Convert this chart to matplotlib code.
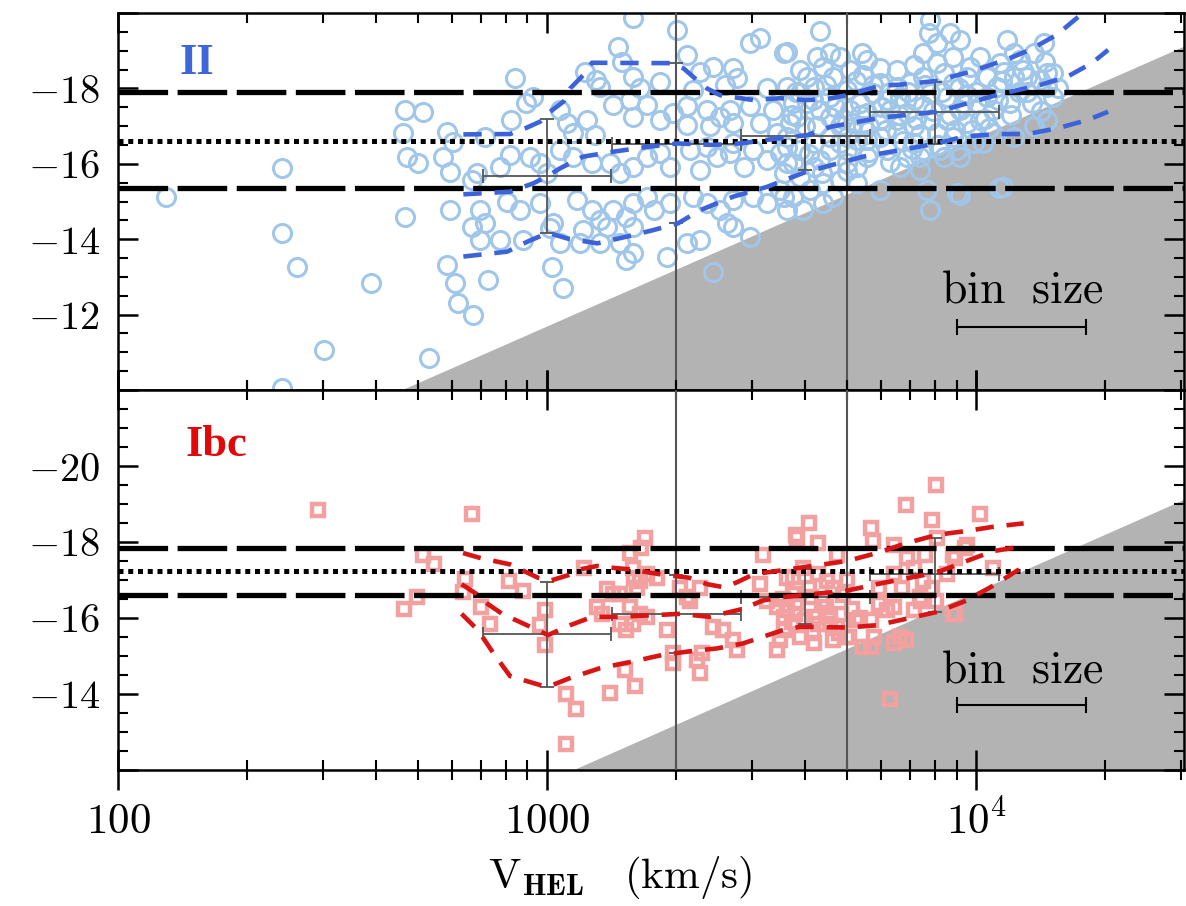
import numpy as np
import matplotlib.pyplot as plt
from matplotlib.ticker import MultipleLocator, FixedLocator, FuncFormatter, NullFormatter

plt.rcParams['mathtext.fontset'] = 'cm'
plt.rcParams['font.family'] = ['DejaVu Serif']

# ---------------------------------------------------------------
# data: (log10 V_HEL [km/s], absolute mag)
# ---------------------------------------------------------------
ii_points = np.array([
    (2.113, -15.13), (2.382, -15.88), (2.382, -14.16), (2.416, -13.27), (2.589, -12.83),
    (2.479, -11.06), (2.382, -10.04), (2.724, -10.84), (2.827, -11.99),
    (3.201, -19.86), (3.302, -19.55), (3.166, -19.11), (2.925, -18.27), (3.088, -18.44),
    (3.115, -18.22), (3.123, -18.05), (3.174, -18.71), (3.201, -18.31), (3.216, -18.00),
    (3.263, -18.18), (3.325, -18.89), (3.356, -18.44), (3.387, -18.58), (3.434, -18.53),
    (3.473, -19.20), (3.496, -19.33), (3.558, -18.97), (3.442, -18.27), (3.415, -18.09),
    (3.341, -17.96), (3.512, -18.00),
    (2.669, -17.43), (2.711, -17.38), (2.665, -16.81), (2.766, -16.85), (2.781, -16.59),
    (2.855, -16.72), (2.917, -17.16), (2.952, -17.60), (2.968, -17.78), (3.030, -17.43),
    (3.046, -17.07), (3.092, -17.16), (3.061, -16.81), (3.112, -16.76), (3.154, -17.56),
    (3.193, -17.69), (3.232, -17.56), (3.201, -17.25), (3.263, -17.16), (3.294, -17.34),
    (3.325, -17.52), (3.325, -17.03), (3.372, -17.43), (3.403, -17.25), (3.380, -16.99),
    (3.426, -17.43), (3.473, -17.52), (3.527, -17.43), (3.566, -17.07), (3.434, -17.07),
    (3.496, -17.07), (3.535, -16.81),
    (2.673, -16.19), (2.700, -16.01), (2.758, -16.19), (2.774, -15.79), (2.824, -15.57),
    (2.836, -15.75), (2.890, -15.92), (2.913, -16.23), (2.960, -16.19), (2.983, -16.01),
    (2.999, -15.75), (3.030, -16.37), (3.061, -16.19), (3.104, -16.01), (3.147, -16.01),
    (3.170, -15.75), (3.201, -15.92), (3.232, -16.19), (3.263, -16.28), (3.286, -15.92),
    (3.333, -16.37), (3.356, -15.84), (3.395, -16.19), (3.426, -16.28), (3.458, -15.92),
    (3.481, -16.37), (3.512, -16.10), (3.543, -16.28), (3.574, -16.01), (3.551, -15.75),
    (3.434, -16.54), (3.372, -16.45),
    (2.669, -14.60), (2.774, -14.77), (2.843, -14.77), (2.855, -14.42), (2.906, -15.00),
    (2.937, -14.77), (2.983, -14.95), (3.014, -14.42), (3.069, -15.04), (3.104, -14.77),
    (3.123, -14.51), (3.154, -14.77), (3.185, -14.60), (3.201, -14.95), (3.232, -15.13),
    (3.248, -14.77), (3.201, -14.33), (3.084, -14.24), (3.139, -14.33), (3.286, -14.95),
    (3.341, -15.13), (3.372, -14.95), (3.403, -14.77), (3.434, -15.04), (3.481, -15.13),
    (3.512, -14.95), (3.551, -15.13), (3.419, -14.42), (3.434, -14.33), (3.473, -14.07),
    (2.824, -14.33), (2.843, -13.98), (2.890, -13.98), (2.945, -13.98), (3.007, -14.29),
    (3.030, -13.89), (3.077, -13.89), (3.123, -13.89), (3.170, -13.89), (3.201, -13.63),
    (3.185, -13.45), (3.279, -13.54), (3.325, -13.89), (3.356, -13.98), (2.766, -13.32),
    (2.785, -12.83), (2.863, -12.92), (3.011, -13.27), (3.038, -12.70), (3.387, -13.14),
    (2.793, -12.30),
    (3.636, -19.51), (3.551, -18.93), (3.660, -18.93), (3.683, -18.84), (3.733, -18.93),
    (3.745, -18.75), (3.776, -18.53), (3.737, -18.36), (3.667, -18.31), (3.644, -18.58),
    (3.621, -18.05), (3.590, -17.87), (3.559, -18.05), (3.893, -19.81), (3.889, -19.46),
    (3.908, -19.20), (3.939, -19.46), (3.947, -18.84), (3.877, -18.93), (3.854, -18.62),
    (3.908, -18.67), (3.924, -18.40), (3.877, -18.31), (3.846, -18.13), (3.815, -18.05),
    (3.978, -18.31), (4.009, -18.84), (4.025, -18.31), (4.071, -19.28), (4.087, -18.93),
    (4.102, -18.75), (4.134, -18.93), (4.157, -19.20), (4.165, -18.40), (4.087, -18.31),
    (4.048, -18.05), (4.118, -18.31), (4.180, -18.40), (4.079, -17.60), (4.040, -17.43),
    (4.001, -17.60), (3.978, -17.83), (3.963, -17.43), (3.932, -17.16), (3.877, -17.52),
    (3.838, -17.34), (3.799, -17.43), (3.776, -17.16), (3.737, -16.99), (3.706, -17.43),
    (3.683, -16.99), (3.636, -17.43), (3.582, -17.25), (3.559, -16.72), (3.621, -16.54),
    (3.660, -16.37), (3.698, -16.37), (3.745, -16.63), (3.815, -16.81), (3.854, -16.54),
    (3.916, -16.37), (3.963, -16.19), (3.994, -16.54), (4.040, -16.81), (4.087, -16.72),
    (4.165, -17.16), (3.559, -16.01), (3.590, -15.66), (3.621, -15.92), (3.644, -15.48),
    (3.667, -15.13), (3.644, -14.95), (3.574, -15.13), (3.543, -15.31), (3.683, -15.57),
    (3.722, -15.92), (3.776, -15.31), (3.823, -15.92), (3.885, -15.31), (3.893, -14.77),
    (3.963, -15.17), (4.063, -15.39), (4.180, -17.78),
    (3.605, -18.31), (3.605, -17.60), (3.660, -17.78), (3.698, -17.96), (3.729, -17.60),
    (3.760, -17.87), (3.792, -17.69), (3.823, -17.78), (3.854, -17.69), (3.893, -17.87),
    (3.932, -17.78), (3.628, -16.99), (3.660, -17.25), (3.714, -17.07), (3.745, -17.34),
    (3.776, -16.72), (3.815, -17.16), (3.854, -16.99), (3.893, -17.16), (3.908, -16.81),
    (3.947, -16.72), (3.978, -17.07), (4.009, -17.16), (4.025, -17.78), (3.590, -16.37),
    (3.636, -16.10), (3.698, -16.01), (3.745, -16.19), (3.792, -16.37), (3.838, -16.19),
    (3.877, -16.37), (3.613, -15.31), (3.722, -15.48), (3.559, -14.77), (3.597, -14.77),
    (3.683, -16.54), (3.722, -16.63), (3.574, -17.60), (3.590, -18.49), (3.628, -18.84),
    (3.706, -18.49), (3.815, -18.49), (3.776, -18.13), (3.947, -18.13), (4.056, -18.67),
    (3.986, -18.58),
    (3.963, -19.28), (4.064, -18.44), (4.149, -18.22), (4.165, -18.05), (4.118, -17.91),
    (4.134, -16.99), (3.870, -16.19), (3.924, -16.19), (3.955, -16.37), (4.017, -16.54),
    (3.870, -15.84), (4.053, -15.35), (3.955, -15.22),
    (3.570, -17.30), (3.600, -17.00), (3.620, -17.70), (3.650, -18.10), (3.670, -17.50),
    (3.690, -17.20), (3.700, -16.70), (3.720, -18.20), (3.730, -17.30), (3.750, -17.00),
    (3.760, -18.10), (3.780, -17.50), (3.790, -16.90), (3.800, -17.90), (3.820, -17.30),
    (3.830, -16.60), (3.840, -17.90), (3.860, -17.20), (3.870, -16.80), (3.880, -18.10),
    (3.900, -17.40), (3.910, -16.50), (3.920, -17.90), (3.940, -17.30), (3.950, -16.90),
    (3.960, -18.00), (3.970, -17.60), (3.990, -16.90), (4.000, -17.90), (4.020, -17.20),
    (4.030, -16.95), (4.050, -17.70), (4.060, -18.20), (4.080, -17.30), (4.100, -17.90),
    (4.110, -18.50), (4.130, -17.60), (4.150, -17.40), (4.160, -18.70), (4.190, -18.00),
    (3.560, -16.45), (3.610, -16.25), (3.660, -16.70), (3.580, -17.90), (3.640, -15.75),
    (3.700, -15.80), (3.750, -16.30), (3.800, -16.05), (3.850, -16.40),
])

ibc_points = np.array([
    (2.465, -18.84), (2.825, -18.73), (2.711, -17.67), (2.737, -17.41), (2.809, -17.02),
    (2.804, -16.68), (2.697, -16.55), (2.666, -16.24), (2.847, -16.30), (2.867, -15.84),
    (2.911, -16.98), (2.943, -16.72), (2.996, -16.20), (2.983, -15.81), (2.996, -15.29),
    (3.045, -13.99), (3.068, -13.60), (3.045, -12.69), (3.085, -17.32), (3.117, -16.29),
    (3.139, -16.76), (3.154, -16.63), (3.127, -16.11), (3.170, -15.85), (3.185, -15.68),
    (3.201, -15.85), (3.216, -16.11), (3.232, -16.03), (3.193, -16.29), (3.216, -16.98),
    (3.232, -17.15), (3.201, -17.32), (3.228, -18.10), (3.220, -17.84), (3.193, -17.71),
    (3.170, -16.63), (3.147, -14.03), (3.205, -14.21), (3.182, -14.64), (3.279, -15.68),
    (3.294, -14.81), (3.294, -15.07), (3.333, -16.46), (3.356, -16.80), (3.360, -15.07),
    (3.356, -14.55), (3.349, -14.90), (3.387, -15.77), (3.411, -15.68), (3.434, -15.42),
    (3.442, -15.16), (3.504, -17.67), (3.496, -16.89), (3.512, -16.46), (3.535, -16.29),
    (3.551, -16.03), (3.582, -18.10), (3.574, -17.07), (3.578, -16.11), (3.543, -15.42),
    (3.535, -15.16),
    (3.610, -18.49), (3.579, -18.19), (3.632, -17.97), (3.676, -17.67), (3.596, -17.32),
    (3.632, -17.15), (3.667, -16.80), (3.614, -16.55), (3.650, -16.29), (3.685, -16.11),
    (3.632, -15.85), (3.676, -15.77), (3.721, -15.94), (3.667, -15.42), (3.703, -15.51),
    (3.756, -18.36), (3.760, -18.02), (3.809, -17.93), (3.836, -18.97), (3.907, -19.49),
    (3.898, -18.58), (4.009, -18.73), (3.978, -17.93), (3.951, -17.58), (3.880, -17.67),
    (3.854, -17.32), (3.809, -17.15), (3.774, -16.80), (3.827, -16.80), (3.871, -16.46),
    (3.809, -16.29), (3.774, -16.37), (3.756, -15.94), (3.756, -15.25), (3.809, -15.33),
    (3.836, -15.42), (3.800, -13.86), (3.951, -16.11), (4.040, -17.32), (3.933, -17.15),
    (3.898, -16.80), (3.907, -16.46),
    (3.559, -17.06), (3.574, -16.63), (3.559, -16.20), (3.652, -16.98), (3.621, -16.03),
    (3.660, -15.85), (3.698, -15.51), (3.737, -15.25), (3.761, -15.51), (3.823, -15.51),
    (3.792, -16.20), (3.854, -16.20), (3.869, -16.55), (3.877, -16.98), (3.838, -17.58),
    (3.947, -17.67), (3.974, -17.84), (3.908, -18.10), (3.947, -16.11), (3.551, -15.68),
    (3.590, -15.51), (3.621, -15.33),
    (3.202, -17.06), (3.210, -16.80), (3.256, -17.06), (3.310, -16.80), (3.326, -16.55),
    (3.580, -16.40), (3.610, -16.80), (3.640, -16.45), (3.690, -16.60), (3.710, -16.25),
    (3.730, -16.00), (3.660, -16.05), (3.600, -15.95), (3.550, -16.50), (3.680, -15.60),
    (3.620, -15.60), (3.700, -17.00), (3.570, -15.90),
])

# running percentiles (V in km/s, mag)
ii_up_v = [638, 820, 889, 964, 1016, 1092, 1132, 1216, 1272, 1935, 2080, 2235, 2357, 2531,
           3027, 3493, 4000, 4440, 5000, 5970, 6650, 8110, 10000, 11970, 13330, 15400,
           17600, 19400]
ii_up_m = [-16.78, -16.79, -16.94, -17.12, -17.38, -17.65, -18.00, -18.36, -18.68, -18.67,
           -18.53, -18.22, -18.00, -17.82, -17.69, -17.74, -17.69, -17.71, -17.82, -18.07,
           -18.10, -18.20, -18.49, -18.80, -19.02, -19.42, -19.97, -20.40]
ii_med_v = [638, 820, 928, 1005, 1072, 1213, 1425, 1711, 2018, 2436, 2818, 3493, 4036, 4570,
            5970, 8110, 11380, 14090, 16300, 18600, 20300]
ii_med_m = [-15.19, -15.26, -15.48, -15.68, -15.88, -16.19, -16.32, -16.45, -16.54, -16.50,
            -16.54, -16.68, -16.76, -16.98, -17.22, -17.38, -17.85, -18.09, -18.31, -18.67,
            -19.02]
ii_lo_v = [638, 807, 898, 1005, 1114, 1309, 1535, 1766, 2018, 2274, 2716, 3259, 4000, 5454,
           8110, 9330, 11200, 13150, 15450, 18150, 20300]
ii_lo_m = [-13.54, -13.67, -13.93, -14.17, -14.02, -13.89, -14.07, -14.24, -14.42, -14.77,
           -15.13, -15.39, -15.78, -16.19, -16.54, -16.72, -16.79, -16.79, -16.94, -17.16,
           -17.38]

ibc_up_v = [637, 698, 820, 952, 1016, 1122, 1194, 1309, 1425, 1560, 1835, 2140, 2360, 2580,
            2770, 3030, 3650, 5000, 5870, 6880, 8110, 9500, 10950, 12900]
ibc_up_m = [-17.71, -17.58, -17.41, -17.06, -16.98, -17.13, -17.28, -17.37, -17.32, -17.28,
            -17.15, -17.06, -16.89, -16.81, -16.94, -17.15, -17.28, -17.50, -17.71, -17.97,
            -18.19, -18.29, -18.40, -18.49]
ibc_med_v = [632, 685, 727, 786, 913, 1005, 1131, 1275, 1455, 1740, 2043, 2390, 2860, 3180,
             3540, 5000, 5870, 8110, 9500, 10950, 12600]
ibc_med_m = [-16.89, -16.63, -16.37, -16.11, -15.77, -15.55, -15.81, -16.03, -16.03, -16.07,
             -16.11, -16.03, -16.24, -16.46, -16.55, -16.72, -16.89, -17.20, -17.50, -17.76,
             -17.87]
ibc_lo_v = [632, 690, 750, 820, 980, 1005, 1131, 1329, 1590, 1860, 2140, 2490, 2860, 3540,
            3890, 5000, 5870, 6880, 8110, 9500, 10950, 12600]
ibc_lo_m = [-16.11, -15.68, -15.07, -14.47, -14.21, -14.19, -14.42, -14.68, -14.86, -15.03,
            -15.12, -15.20, -15.33, -15.68, -15.77, -15.75, -15.81, -15.98, -16.16, -16.46,
            -16.85, -17.28]

# binned statistics (bin width 0.3 dex)
bin_v = [1000, 2000, 4000, 8000]
bin_halfwidth_dex = 0.15
ii_bin_m = [-15.68, -16.53, -16.74, -17.37]
ii_bin_faint = [-14.17, -14.43, -15.84, -16.53]
ii_bin_bright = [-17.19, -18.67, -17.69, -18.17]
ibc_bin_m = [-15.57, -16.10, -16.55, -17.15]
ibc_bin_faint = [-14.19, -15.07, -15.85, -16.16]
ibc_bin_bright = [-16.94, -17.12, -17.28, -18.10]

# horizontal reference levels: (bright, mean, faint)
ii_levels = [-17.90, -16.61, -15.37]
ibc_levels = [-17.85, -17.23, -16.60]

# magnitude-limit edge of the shaded region
limit_v = [100, 31000]
limit_m = [-6.70, -19.16]

vlines_v = [2000, 5000]
binbar_v = [9000, 18000]

BLUE_PT = '#a0c6ea'
BLUE_LN = '#3d63d9'
RED_PT = '#f3a0a0'
RED_LN = '#d81414'
GREY = '#555555'


def style_axis(ax, ylim, labelled, show_xlabels):
    ax.set_xscale('log')
    ax.set_xlim(100, 30500)
    ax.set_ylim(*ylim)
    ax.yaxis.set_major_locator(MultipleLocator(2))
    ax.yaxis.set_minor_locator(MultipleLocator(0.5))
    ax.yaxis.set_major_formatter(FuncFormatter(
        lambda y, p: r'$%d$' % round(y) if round(y) in labelled else ''))
    ax.xaxis.set_major_locator(FixedLocator([100, 1000, 10000]))
    ax.xaxis.set_minor_locator(FixedLocator(
        [k * 10 ** e for e in (2, 3, 4) for k in range(2, 10)]))
    ax.xaxis.set_minor_formatter(NullFormatter())
    ax.xaxis.set_major_formatter(FuncFormatter(
        lambda x, p: {100: r'$100$', 1000: r'$1000$', 10000: r'$10^4$'}.get(int(round(x)), '')))
    for s in ax.spines.values():
        s.set_linewidth(1.8)
    ax.tick_params(axis='y', which='both', direction='in', left=True, right=True,
                   labelsize=29, pad=13)
    ax.tick_params(axis='y', which='major', length=14.4, width=1.8)
    ax.tick_params(axis='y', which='minor', length=7.2, width=1.5)
    if show_xlabels:
        ax.tick_params(axis='x', which='both', direction='inout', top=True, bottom=True,
                       labelbottom=True, labelsize=31, pad=7)
        ax.tick_params(axis='x', which='major', length=28.8, width=1.8)
        ax.tick_params(axis='x', which='minor', length=14.4, width=1.5)
    else:
        ax.tick_params(axis='x', which='both', direction='in', top=True, bottom=True,
                       labelbottom=False)
        ax.tick_params(axis='x', which='major', length=14.4, width=1.8)
        ax.tick_params(axis='x', which='minor', length=7.2, width=1.5)


def draw_panel(ax, pts, marker, pcol, ms, mew, curves, lcol, bins, levels,
               bar_m, text_m):
    ax.fill_between(limit_v, limit_m, [0, 0], color='#b3b3b3', lw=0, zorder=0)
    ax.plot(10 ** pts[:, 0], pts[:, 1], marker, mfc='none', mec=pcol, ms=ms, mew=mew,
            ls='none', zorder=2)
    for v in vlines_v:
        ax.axvline(v, color=GREY, lw=1.5, zorder=3)
    bv = np.array(bin_v, dtype=float)
    bm, bf, bb = (np.array(a) for a in bins)
    xerr = [bv - bv / 10 ** bin_halfwidth_dex, bv * 10 ** bin_halfwidth_dex - bv]
    yerr = [bm - bb, bf - bm]
    ax.errorbar(bv, bm, xerr=xerr, yerr=yerr, fmt='none', ecolor=GREY, elinewidth=1.3,
                capsize=5, capthick=1.3, zorder=4)
    ax.axhline(levels[0], color='k', lw=3.8, dashes=(9.4, 1.8), zorder=5)
    ax.axhline(levels[2], color='k', lw=3.8, dashes=(9.4, 1.8), zorder=5)
    ax.axhline(levels[1], color='k', lw=3.6, dashes=(1.0, 0.95), zorder=5)
    for cv, cm in curves:
        ax.plot(cv, cm, color=lcol, lw=3.3, dashes=(4.0, 2.8), zorder=6)
    ax.plot(binbar_v, [bar_m, bar_m], color='k', lw=1.5, marker='|', ms=11, mew=1.5,
            zorder=6)
    ax.text(np.sqrt(binbar_v[0] * binbar_v[1]) * 1.005, text_m, r'$\mathrm{bin\ \ size}$',
            fontsize=33, ha='center', va='center', zorder=7)


fig = plt.figure(figsize=(11.86, 9.06), dpi=100)
W, H = 1186.0, 906.0
ax1 = fig.add_axes([118 / W, 1 - 390 / H, (1184 - 118) / W, (390 - 13) / H])
ax2 = fig.add_axes([118 / W, 1 - 770 / H, (1184 - 118) / W, (770 - 390) / H])

draw_panel(ax1, ii_points, 'o', BLUE_PT, 13, 2.2,
           [(ii_up_v, ii_up_m), (ii_med_v, ii_med_m), (ii_lo_v, ii_lo_m)], BLUE_LN,
           (ii_bin_m, ii_bin_faint, ii_bin_bright), ii_levels, -11.68, -12.65)
draw_panel(ax2, ibc_points, 's', RED_PT, 8, 3.2,
           [(ibc_up_v, ibc_up_m), (ibc_med_v, ibc_med_m), (ibc_lo_v, ibc_lo_m)], RED_LN,
           (ibc_bin_m, ibc_bin_faint, ibc_bin_bright), ibc_levels, -13.71, -14.63)

style_axis(ax1, (-10, -20), [-18, -16, -14, -12], False)
style_axis(ax2, (-12, -22), [-20, -18, -16, -14], True)

ax1.text(0.074, 0.867, 'II', transform=ax1.transAxes, color='#3f66d9', fontsize=32,
         fontweight='bold', family='Liberation Serif', ha='center', va='center')
ax2.text(0.092, 0.855, 'Ibc', transform=ax2.transAxes, color='#e00808', fontsize=32,
         fontweight='bold', family='Liberation Serif', ha='center', va='center')

fig.text(0.523, 0.006, r'$\mathrm{V}_{\mathbf{HEL}}\ \ \ (\mathrm{km/s})$', fontsize=31,
         ha='center', va='bottom')

fig.savefig('out.png', dpi=100, facecolor='white')
